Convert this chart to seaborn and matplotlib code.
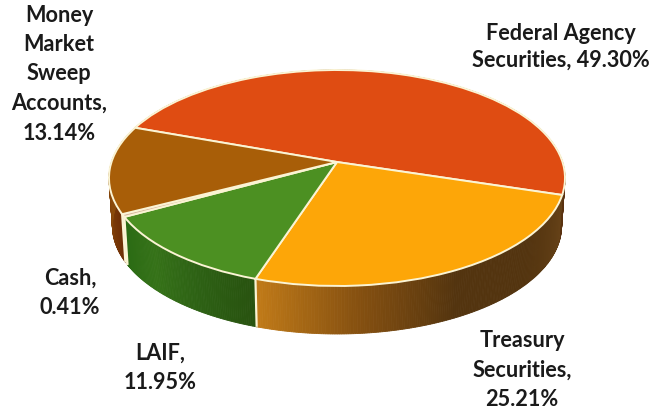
import numpy as np
import matplotlib
matplotlib.use("Agg")
import matplotlib.pyplot as plt
from matplotlib.path import Path
from matplotlib.transforms import Transform
import seaborn as sns

# Portfolio allocation, percent of total
names = ["Federal Agency\nSecurities,", "Treasury\nSecurities,", "LAIF,", "Cash,",
         "Money\nMarket\nSweep\nAccounts,"]
shares = [49.30, 25.21, 11.95, 0.41, 13.14]
separators = [" ", "\n", "\n", "\n", "\n"]
top_colors = ["#DF4C12", "#FDA608", "#4C9022", "#D8B8A0", "#A85E08"]
side_shades = [
    ["#5A3210", "#5A3210"],
    ["#664218", "#53340F", "#53340F", "#855010", "#C07A18"],
    ["#28520F", "#2D6114", "#357218", "#2B6B14"],
    ["#E8D8C8", "#E8D8C8"],
    ["#6E2E05", "#8A4A0A", "#8A4A0A"],
]
label_xy = [(561, 47), (522, 370), (160, 368), (70, 293), (59, 74)]
label_spacing = [1.32, 1.5, 1.5, 1.5, 1.5]

START_ANGLE = 160.1
CX, CY = 337.0, 178.0
HALF_W, HALF_H, APEX_UP, PERSP = 225.5, 108.0, 16.0, 0.148
DEPTH = 48.0
EDGE = "#FBF4D4"


def project(x, y, drop=0.0):
    """Perspective view of the unit disc, in figure pixels, lowered by drop."""
    w = 1 + PERSP * y
    shrink = 1 - 0.015 * drop / DEPTH
    return CX + HALF_W * x / w * shrink, CY - (HALF_H * y + APEX_UP) / w + drop


class TiltedDisc(Transform):
    input_dims = 2
    output_dims = 2
    has_inverse = False

    def transform_non_affine(self, values):
        values = np.asarray(values)
        px, py = project(values[:, 0], values[:, 1])
        return np.column_stack([px, py])

    def transform_path_non_affine(self, path):
        return Path(self.transform_non_affine(path.vertices), path.codes)


sns.set_theme(style="white")
plt.rcParams["font.family"] = ["Lato", "DejaVu Sans"]

fig, ax = plt.subplots(figsize=(6.56, 4.09), dpi=100)
ax.set_position([0, 0, 1, 1])

wedges, _ = ax.pie(shares, startangle=START_ANGLE, counterclock=False, colors=top_colors,
                   wedgeprops=dict(edgecolor=EDGE, linewidth=1.4, zorder=3))
ax.set_aspect("auto")
ax.set_xlim(0, 656)
ax.set_ylim(409, 0)
ax.axis("off")

disc = TiltedDisc() + ax.transData
for wedge in wedges:
    wedge.set_transform(disc)
    wedge.set_clip_on(False)

# Shaded rim below the top face, one thin strip per step of angle
for wedge, shades in zip(wedges, side_shades):
    steps = max(int(wedge.theta2 - wedge.theta1) * 2, 4)
    angles = np.radians(np.linspace(wedge.theta2, wedge.theta1, steps + 1))
    strip_colors = sns.blend_palette(shades, n_colors=steps)
    for a0, a1, color in zip(angles[:-1], angles[1:], strip_colors):
        xs0, ys0 = project(np.cos(a0), np.sin(a0))
        xs1, ys1 = project(np.cos(a1), np.sin(a1))
        xb1, yb1 = project(np.cos(a1), np.sin(a1), DEPTH)
        xb0, yb0 = project(np.cos(a0), np.sin(a0), DEPTH)
        ax.fill([xs0, xs1, xb1, xb0], [ys0, ys1, yb1, yb0], color=color, lw=0.6, zorder=1)

# Seams between neighbouring rim sections on the front of the disc
for wedge in wedges[1:4]:
    a = np.radians(wedge.theta1)
    x0, y0 = project(np.cos(a), np.sin(a))
    x1, y1 = project(np.cos(a), np.sin(a), DEPTH)
    ax.plot([x0, x1], [y0, y1], color=EDGE, lw=1.6, zorder=2, solid_capstyle="butt")

for name, share, sep, (x, y), spacing in zip(names, shares, separators, label_xy, label_spacing):
    ax.text(x, y, f"{name}{sep}{share:.2f}%", ha="center", va="center", fontsize=15.6,
            fontweight="bold", color="#1A1A1A", linespacing=spacing, zorder=5)

fig.savefig("out.png", dpi=100)
